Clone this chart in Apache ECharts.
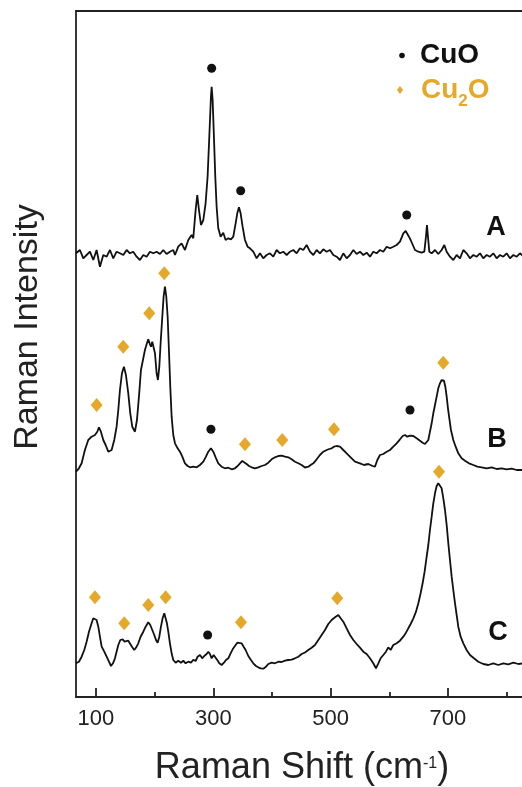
<!DOCTYPE html>
<html>
<head>
<meta charset="utf-8">
<script src="https://cdn.jsdelivr.net/npm/echarts@6/dist/echarts.min.js"></script>
<style>
  html, body { margin: 0; padding: 0; overflow: hidden; background: #fff; }
  #chart { width: 530px; height: 787px; }
</style>
</head>
<body>
<div id="chart"></div>
<script>
// raman shift (cm-1), intensity (arb., spectra stacked)
const specA = [
  [66,443.7],[72.7,447],[78.4,438.7],[84.1,442],[89.8,445.3],[95.5,437],[101.1,447],[106.8,430.3],
  [112.5,442],[118.2,440.3],[123.9,447],[129.5,438.7],[135.2,445.3],[140.9,443.7],[146.6,442],
  [152.3,447],[157.9,443.7],[163.6,445.3],[169.3,440.3],[175,437],[180.7,442],[186.4,440.3],
  [192,445.3],[197.7,443.7],[203.4,445.3],[209.1,443],[214.8,447],[220.4,443],[226.1,445.3],
  [231.8,447],[234.7,442],[240.3,450.3],[246,453.7],[251.7,447],[257.4,457],[263.1,462],
  [265.9,458.7],[269.9,487],[272.7,502],[275.6,487],[279,472],[283,477],[286.9,493.7],
  [290.3,520.3],[293.2,560.3],[296,600.3],[297.2,610.3],[298.9,597],[301.1,560.3],[303.4,520.3],
  [305.7,490.3],[308.5,468.7],[312.5,460.3],[317,464.3],[321,457],[325.6,458.7],[330.1,457.7],
  [334.1,460.3],[338.1,473.7],[340.9,483.7],[343.8,489.7],[346.6,483.7],[350,470.3],[354,457],
  [358.5,450.3],[362.5,448.7],[368.2,445.3],[373.9,438.7],[379.6,443.7],[385.2,438.7],[390.9,442],
  [396.6,443.7],[402.3,440.3],[408,447],[413.6,443.7],[419.3,445.3],[425,442],[430.7,445.3],
  [436.4,447],[442.1,443.7],[447.7,448.7],[453.4,447],[459.1,452],[464.8,445.3],[470.5,442],
  [476.2,447],[481.8,443.7],[487.5,447.7],[493.2,445.3],[498.9,447],[504.6,442],[510.2,440.3],
  [515.9,437],[521.6,443.7],[527.3,438.7],[533,442],[538.7,447],[544.3,443],[550,445.3],
  [555.7,442],[561.4,444.3],[567.1,440.3],[572.7,445.3],[578.4,443.7],[584.1,447],[589.8,445.3],
  [595.5,450.3],[601.2,448.7],[606.8,450.3],[612.5,452],[618.2,455.3],[623.9,463.7],[627.9,466],
  [630.7,464.3],[633.5,460.3],[636.4,457],[639.8,455.3],[643.8,447],[649.5,445.3],[655.1,444.3],
  [659.7,445.3],[662.5,460.3],[664.2,472],[665.9,460.3],[668.2,445.3],[672.2,443.7],[677.9,447],
  [683.5,443],[689.2,447],[693.8,452],[697.8,445.3],[703.4,440.3],[709.1,437],[714.8,442],
  [720.5,438.7],[726.2,447],[731.8,443.7],[737.5,438.7],[743.2,442],[748.9,440.3],[754.6,443.7],
  [760.2,438.7],[765.9,442],[771.6,440.3],[777.3,443.7],[783,438.7],[788.7,442],[794.3,440.3],
  [800,443.7],[805.7,438.7],[811.4,442],[817.1,440.3],[822.7,443.7],[828,441]
];

const specB = [
  [66,225.3],[71,228.7],[75.6,233.7],[81.2,247],[86.9,257],[92.6,260.3],[98.3,262],[102.3,265.3],
  [105.1,269.7],[108.5,265.3],[112.5,257],[116.5,252],[121,245.3],[126.7,247],[131.2,257],
  [135.2,270.3],[138.1,287],[140.9,307],[144.3,323.7],[147.7,330.3],[151.1,322],[155.1,303.7],
  [158.5,283.7],[161.9,270.3],[166.5,265.3],[169.9,277],[173.3,300.3],[176.7,327],[180.1,337],
  [183.5,347],[186.9,353.7],[189.2,357.7],[191.5,353.7],[193.8,350.3],[196,355.3],[198.3,356.3],
  [200.6,343.7],[203.4,323.7],[205.7,317],[208,330.3],[210.2,353.7],[213.1,380.3],[215.3,400.3],
  [217.6,410.3],[219.9,400.3],[222.2,380.3],[224.4,347],[226.7,310.3],[229,280.3],[231.8,262],
  [234.7,253.7],[239.2,248.7],[243.2,245.3],[247.2,240.3],[251.7,233.7],[256.3,231],[260.2,229.7],
  [265.9,230.3],[271.6,229.7],[277.3,232],[283,235.3],[287.5,240.3],[291.5,245.3],[296,248.7],
  [300,245.3],[304,239.7],[308.5,233.7],[314.2,230.3],[319.9,228.7],[325.6,229.3],[331.3,227.7],
  [336.9,228.7],[341.5,231],[345.5,233.7],[349.4,236],[352.8,235],[356.8,233],[360.8,231],
  [365.3,229.7],[371,228.7],[376.7,229.7],[382.4,231],[388.1,232],[393.8,234.3],[399.4,237.7],
  [405.1,239.7],[410.8,241],[416.5,241.3],[422.2,240.3],[427.8,239.7],[433.5,237.7],[439.2,235.3],
  [444.9,233.7],[450.6,232],[456.3,229.5],[462,230.3],[465.9,232],[470.5,233.7],[476.2,237.7],
  [481.8,242],[487.5,245.3],[493.2,247],[497.7,248],[501.7,248.7],[505.7,250.3],[510.2,251],
  [515.9,250.3],[521.6,247],[527.3,243.7],[534.1,239.7],[541.5,235.3],[550,233.7],[556.8,232],
  [564.2,233],[571.6,231],[575.6,230.3],[579.6,237],[584.1,242],[589.8,243],[595.5,245.3],
  [601.2,247],[606.8,250.3],[612.5,253.7],[618.2,257.7],[622.8,261],[626.7,262],[630.7,260.3],
  [635.2,261.3],[640.9,261],[646.6,258.7],[652.3,256.3],[656.8,254.3],[660.8,253],[663.7,252],
  [666.5,257],[669.3,265.3],[672.2,273.7],[675,283.7],[677.9,292],[680.7,300.3],[683.5,308.7],
  [686.4,313.7],[689.2,317],[690.9,317.7],[693.2,316.3],[695.5,310.3],[697.8,300.3],[700,288.7],
  [702.3,278.7],[705.1,267],[709.1,257],[713.1,250.3],[717.6,243.7],[723.3,238.7],[729,236.3],
  [735.8,233.7],[743.2,232],[750,230.3],[757.4,229.7],[765.9,228.7],[774.5,229.7],[783,228],
  [791.5,228.7],[800,227.7],[808.6,228.3],[817.1,227],[828,227]
];

const specC = [
  [66,33.7],[71,35.3],[75.6,40.3],[80.1,47],[84.1,55.3],[88.1,65.3],[92.6,73.7],[95.5,78.7],
  [98.3,80.3],[101.1,77],[104,70.3],[106.8,60.3],[109.7,50.3],[114.2,45.3],[118.2,40.3],
  [122.2,35.3],[125.6,31],[129,33.7],[132.4,38.7],[135.2,45.3],[138.1,52],[141.5,57],[145.5,57.7],
  [148.9,55.3],[152.3,53.7],[155.1,56.3],[157.9,55.3],[161.4,50.3],[165.3,47],[168.7,49.7],
  [172.2,53.7],[176.1,60.3],[180.7,65.3],[184.7,70.3],[189.2,74.7],[192.6,72],[196,67],[199.4,62],
  [202.3,57],[205.1,54.3],[208,60.3],[210.8,70.3],[213.6,78.7],[216.5,83.7],[218.7,82],[221,73.7],
  [223.3,65.3],[226.1,53.7],[229,43.7],[231.8,37],[235.8,34.3],[240.3,36.3],[244.9,34.3],
  [248.9,36.3],[252.8,33.7],[257.4,35.3],[261.9,34.3],[265.9,37.3],[269.9,36],[273.3,40.3],
  [277.3,42],[281.2,38.7],[284.6,41],[288.6,43],[291.5,45.3],[294.3,43],[297.2,38.7],[300.6,42],
  [303.4,41],[306.8,37],[310.2,33.7],[314.2,32],[318.2,34.3],[321.6,37],[325.6,38.7],[329.5,43.7],
  [333,47.7],[336.9,51],[340.9,54.3],[344.3,55.3],[348.3,53.7],[351.7,50.3],[355.1,47],[359.7,41],
  [364.2,37],[368.2,33.7],[372.7,31],[376.7,29.7],[380.7,28.7],[385.2,28.3],[389.8,30.3],[393.8,33],
  [399.4,34.3],[405.1,33.7],[410.8,35.3],[416.5,35],[422.2,36.3],[427.8,37],[433.5,37.3],
  [439.2,38.7],[444.9,40.3],[450.6,43],[456.3,44.5],[462,47],[467.6,49.3],[473.3,52],[479,57],
  [484.7,62],[490.4,67],[496,73],[501.7,77],[507.4,79.7],[513.1,82],[517.1,78.7],[521.6,75.3],
  [527.3,68.7],[533,62],[538.7,57],[544.3,53],[550,49.3],[555.7,45.3],[561.4,43],[567.1,38.7],
  [572.7,33.7],[577.3,28.7],[581.3,33.7],[585.2,38.7],[589.8,42],[594.3,45.3],[598.3,49.7],
  [602.3,47],[606.8,52],[612.5,53.7],[618.2,56.3],[623.9,60.3],[628.4,64.3],[632.4,68.7],
  [636.4,73],[641,78.7],[645.5,85.3],[649.5,93.7],[653.4,103.7],[656.8,113.7],[660.2,125.3],
  [663.7,140.3],[666.5,152],[669.3,167],[672.2,180.3],[675,193.7],[677.9,203.7],[680.7,211],
  [683.5,213.7],[686.4,212],[689.2,208.7],[692.1,198.7],[694.9,187],[697.8,172],[700.6,153.7],
  [703.4,137],[706.3,120.3],[709.1,107],[712,93.7],[714.8,82],[717.6,70.3],[721.6,60.3],
  [726.2,53.7],[731.8,47],[737.5,42],[744.3,38.7],[751.7,35.3],[760.2,33],[768.8,32],[777.3,33.7],
  [785.8,32],[794.3,33.7],[802.9,32.7],[811.4,34.3],[819.9,33],[828,33.7]
];

// peak assignments
const cuoPeaks = [[297.2,628.7],[346.7,506.3],[629.7,482],[296,267.7],[635.3,287],[290.4,62]];
const cu2oPeaks = [
  [101.2,292],[146.5,350.3],[190.9,383.7],[216.4,423.7],[354,252.7],[417.6,257],[505.7,267.7],[692,334.3],
  [98.3,99.7],[148.2,73.7],[189.2,92],[218.8,99.7],[347.2,74.7],[511.3,98.7],[684.7,225.3]
];

const majorTicks = [100, 300, 500, 700];
const minorTicks = [200, 400, 600, 800];

const FONT = 'Liberation Sans, Arial, sans-serif';
const GOLD = '#E6A828';
const INK = '#111';

const chart = echarts.init(document.getElementById('chart'));

const lineSeries = (data) => ({
  type: 'line',
  data: data,
  symbol: 'none',
  lineStyle: { color: INK, width: 1.8 },
  xAxisIndex: 0,
  yAxisIndex: 0,
  silent: true
});

chart.setOption({
  animation: false,
  backgroundColor: '#fff',
  grid: { left: 76, top: 11, right: 4, bottom: 90 },
  xAxis: [
    {
      type: 'value', min: 66, max: 833, position: 'bottom',
      axisLine: { lineStyle: { color: '#222', width: 1.8 } },
      axisTick: { inside: true, length: 9, customValues: majorTicks, lineStyle: { color: '#222', width: 1.8 } },
      axisLabel: { customValues: majorTicks, fontSize: 22, margin: 11, color: '#222', fontFamily: FONT },
      splitLine: { show: false }
    },
    {
      type: 'value', min: 66, max: 833, position: 'bottom',
      axisLine: { show: false },
      axisTick: { inside: true, length: 5, customValues: minorTicks, lineStyle: { color: '#222', width: 1.8 } },
      axisLabel: { show: false },
      splitLine: { show: false }
    },
    {
      type: 'value', min: 66, max: 833, position: 'top',
      axisLine: { lineStyle: { color: '#222', width: 1.8 } },
      axisTick: { show: false }, axisLabel: { show: false }, splitLine: { show: false }
    }
  ],
  yAxis: [
    {
      type: 'value', min: 0, max: 686, position: 'left',
      axisLine: { show: true, lineStyle: { color: '#222', width: 1.8 } },
      axisTick: { show: false }, axisLabel: { show: false }, splitLine: { show: false }
    },
    {
      type: 'value', min: 0, max: 686, position: 'right',
      axisLine: { show: true, lineStyle: { color: '#222', width: 1.8 } },
      axisTick: { show: false }, axisLabel: { show: false }, splitLine: { show: false }
    }
  ],
  series: [
    lineSeries(specA),
    lineSeries(specB),
    lineSeries(specC),
    {
      name: 'CuO', type: 'scatter', data: cuoPeaks, symbol: 'circle', symbolSize: 9,
      itemStyle: { color: INK, opacity: 1 }, silent: true
    },
    {
      name: 'Cu2O', type: 'scatter', data: cu2oPeaks, symbol: 'diamond', symbolSize: [12, 14],
      itemStyle: { color: GOLD, opacity: 1 }, silent: true
    }
  ],
  graphic: [
    // legend
    { type: 'circle', shape: { cx: 402, cy: 55.5, r: 2.8 }, style: { fill: INK } },
    {
      type: 'text', x: 420, y: 55.5,
      style: { text: 'CuO', font: 'bold 28px ' + FONT, fill: INK, verticalAlign: 'middle', align: 'left' }
    },
    { type: 'polygon', shape: { points: [[400, 86], [403, 90], [400, 94], [397, 90]] }, style: { fill: GOLD } },
    {
      type: 'text', x: 421, y: 90.5,
      style: {
        text: '{b|Cu}{s|2}{b|O}', align: 'left', verticalAlign: 'middle',
        rich: {
          b: { fontSize: 28, fontWeight: 'bold', fontFamily: FONT, fill: GOLD, lineHeight: 39 },
          s: { fontSize: 17, fontWeight: 'bold', fontFamily: FONT, fill: GOLD, lineHeight: 12, verticalAlign: 'bottom' }
        }
      }
    },
    // sample labels
    { type: 'text', x: 496, y: 228, style: { text: 'A', font: 'bold 27px ' + FONT, fill: INK, align: 'center', verticalAlign: 'middle' } },
    { type: 'text', x: 497, y: 440, style: { text: 'B', font: 'bold 27px ' + FONT, fill: INK, align: 'center', verticalAlign: 'middle' } },
    { type: 'text', x: 498, y: 633, style: { text: 'C', font: 'bold 27px ' + FONT, fill: INK, align: 'center', verticalAlign: 'middle' } },
    // axis titles
    {
      type: 'text', x: 302, y: 768,
      style: {
        text: '{a|Raman Shift (cm}{s|-1}{a|)}', align: 'center', verticalAlign: 'middle',
        rich: {
          a: { fontSize: 36, fontFamily: FONT, fill: '#222', lineHeight: 25 },
          s: { fontSize: 16, fontFamily: FONT, fill: '#222', lineHeight: 10, verticalAlign: 'top' }
        }
      }
    },
    {
      type: 'text', x: 28, y: 327, rotation: Math.PI / 2,
      style: { text: 'Raman Intensity', font: '34px ' + FONT, fill: '#222', align: 'center', verticalAlign: 'middle' }
    }
  ]
});
</script>
</body>
</html>
